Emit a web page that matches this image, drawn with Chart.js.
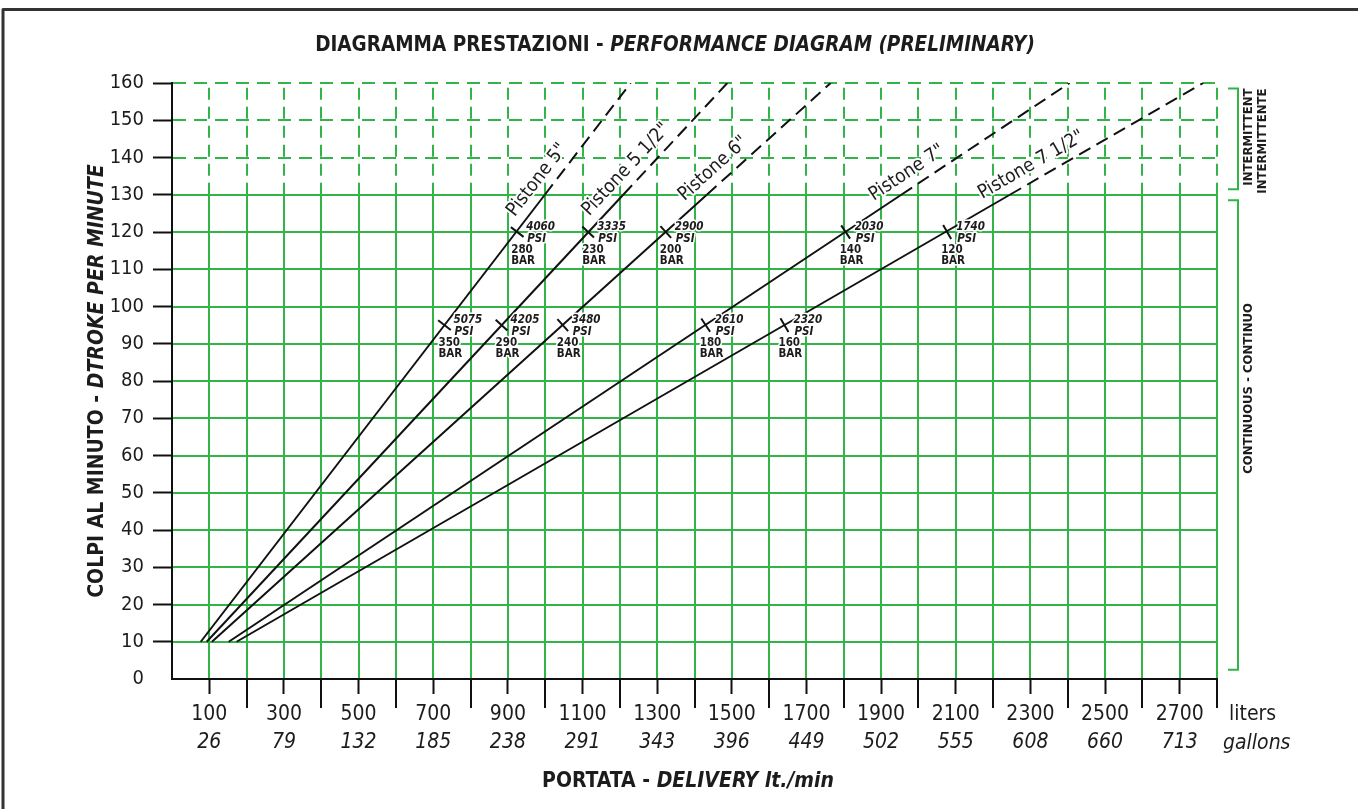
<!DOCTYPE html>
<html>
<head>
<meta charset="utf-8">
<script src="https://cdn.jsdelivr.net/npm/chart.js@4"></script>
<style>
  html, body { margin: 0; padding: 0; background: #fff; }
  #wrap { width: 1358px; height: 809px; position: relative; }
</style>
</head>
<body>
<div id="wrap"><canvas id="chart" width="1358" height="809"></canvas></div>
<script>
const FONT = '"Liberation Sans Narrow", "DejaVu Sans Condensed", "Arial Narrow", sans-serif';
const GREEN = '#33b449';
const INK = '#1c1c1c';

// tick labels
const yTicks = [0, 10, 20, 30, 40, 50, 60, 70, 80, 90, 100, 110, 120, 130, 140, 150, 160];
const literTicks = [100, 300, 500, 700, 900, 1100, 1300, 1500, 1700, 1900, 2100, 2300, 2500, 2700];
const gallonTicks = [26, 79, 132, 185, 238, 291, 343, 396, 449, 502, 555, 608, 660, 713];

// pistons: flow (l/min) at 10, 130 and 160 strokes/min
const pistons = ['Pistone 5"', 'Pistone 5 1/2"', 'Pistone 6"', 'Pistone 7"', 'Pistone 7 1/2"'];
const flowAt10 = [77, 93, 107, 152, 173];
const flowAt130 = [999, 1209, 1433, 1954, 2245];
const flowAt160 = [1229, 1488, 1765, 2405, 2763];

// pressure marks
const flowAt95 = [730, 883, 1047, 1430, 1641];
const psiAt95 = [5075, 4205, 3480, 2610, 2320];
const barAt95 = [350, 290, 240, 180, 160];
const flowAt120 = [925, 1115, 1323, 1805, 2077];
const psiAt120 = [4060, 3335, 2900, 2030, 1740];
const barAt120 = [280, 230, 200, 140, 120];

// where along each line the name sits (strokes/min)
const labelAt = [131.5, 134, 134, 132.5, 134.5];

function lineAngle(chart, i) {
  const x = chart.scales.x, y = chart.scales.y;
  const x0 = x.getPixelForValue(flowAt10[i]), y0 = y.getPixelForValue(10);
  const x1 = x.getPixelForValue(flowAt160[i]), y1 = y.getPixelForValue(160);
  return Math.atan2(y0 - y1, x1 - x0) * 180 / Math.PI;
}

function flowOnLine(i, spm) {
  if (spm <= 130) return flowAt10[i] + (flowAt130[i] - flowAt10[i]) * (spm - 10) / 120;
  return flowAt130[i] + (flowAt160[i] - flowAt130[i]) * (spm - 130) / 30;
}

const lineSets = pistons.map((name, i) => ({
  label: name,
  data: [{ x: flowAt10[i], y: 10 }, { x: flowAt130[i], y: 130 }, { x: flowAt160[i], y: 160 }],
  borderColor: '#111',
  borderWidth: 2,
  pointRadius: 0,
  tension: 0,
  segment: { borderDash: ctx => ctx.p0.parsed.y >= 130 ? [13, 7] : undefined }
}));

const markSets = pistons.map((name, i) => ({
  label: name + ' marks',
  data: [{ x: flowAt95[i], y: 95 }, { x: flowAt120[i], y: 120 }],
  showLine: false,
  pointStyle: 'line',
  pointRadius: 8,
  pointBorderWidth: 2,
  pointBorderColor: '#111',
  pointBackgroundColor: '#111',
  pointRotation: ctx => 90 - lineAngle(ctx.chart, i)
}));

function mixed(ctx, parts, cx, cy) {
  let total = 0;
  parts.forEach(p => { ctx.font = p.font; total += ctx.measureText(p.text).width; });
  let xx = cx - total / 2;
  parts.forEach(p => {
    ctx.font = p.font;
    ctx.fillText(p.text, xx, cy);
    xx += ctx.measureText(p.text).width;
  });
}

function haloText(ctx, text, x, y) {
  ctx.strokeText(text, x, y);
  ctx.fillText(text, x, y);
}

const diagramPlugin = {
  id: 'diagram',
  beforeDatasetsDraw(chart) {
    const { ctx, chartArea: a, scales: { x, y } } = chart;
    ctx.save();
    ctx.strokeStyle = GREEN;
    ctx.lineWidth = 2;
    // horizontal grid
    y.ticks.forEach(t => {
      if (t.value === 0) return;
      const py = Math.round(y.getPixelForValue(t.value));
      ctx.setLineDash(t.value > 130 ? [13, 8] : []);
      ctx.beginPath();
      ctx.moveTo(a.left + 1, py);
      ctx.lineTo(a.right, py);
      ctx.stroke();
    });
    // vertical grid
    const y130 = y.getPixelForValue(130);
    x.ticks.forEach(t => {
      if (t.value === 0) return;
      const px = Math.round(x.getPixelForValue(t.value));
      ctx.setLineDash([]);
      ctx.beginPath();
      ctx.moveTo(px, a.bottom - 1);
      ctx.lineTo(px, y130);
      ctx.stroke();
      ctx.setLineDash([12, 7]);
      ctx.beginPath();
      ctx.moveTo(px, y130);
      ctx.lineTo(px, a.top);
      ctx.stroke();
    });
    ctx.setLineDash([]);
    // long ticks at the even hundreds
    ctx.strokeStyle = '#111';
    x.ticks.forEach(t => {
      if (t.value === 0 || literTicks.includes(t.value)) return;
      const px = Math.round(x.getPixelForValue(t.value));
      ctx.beginPath();
      ctx.moveTo(px, a.bottom);
      ctx.lineTo(px, a.bottom + 29);
      ctx.stroke();
    });
    ctx.restore();
  },
  afterDraw(chart) {
    const { ctx, chartArea: a, scales: { x, y } } = chart;
    ctx.save();
    ctx.fillStyle = INK;
    ctx.textBaseline = 'middle';

    // chart title
    mixed(ctx, [
      { text: 'DIAGRAMMA PRESTAZIONI - ', font: 'bold 20.5px ' + FONT },
      { text: 'PERFORMANCE DIAGRAM (PRELIMINARY)', font: 'italic bold 20.5px ' + FONT }
    ], 675, 46);

    // x title
    mixed(ctx, [
      { text: 'PORTATA - ', font: 'bold 21px ' + FONT },
      { text: 'DELIVERY lt./min', font: 'italic bold 21px ' + FONT }
    ], 688, 782);

    // units
    ctx.textAlign = 'left';
    ctx.font = '21px ' + FONT;
    ctx.fillText('liters', a.right + 12, 715);
    ctx.font = 'italic 21px ' + FONT;
    ctx.fillText('gallons', a.right + 6, 744);

    // y title
    ctx.save();
    ctx.translate(98, 381);
    ctx.rotate(-Math.PI / 2);
    mixed(ctx, [
      { text: 'COLPI AL MINUTO - ', font: 'bold 21px ' + FONT },
      { text: 'DTROKE PER MINUTE', font: 'italic bold 21px ' + FONT }
    ], 0, 0);
    ctx.restore();

    // brackets
    ctx.strokeStyle = GREEN;
    ctx.lineWidth = 2;
    const bx0 = a.right + 11, bx1 = a.right + 21;
    [[158.5, 131.5], [128.5, 2.5]].forEach(([top, bot]) => {
      const t = y.getPixelForValue(top), b = y.getPixelForValue(bot);
      ctx.beginPath();
      ctx.moveTo(bx0, t);
      ctx.lineTo(bx1, t);
      ctx.lineTo(bx1, b);
      ctx.lineTo(bx0, b);
      ctx.stroke();
    });
    ctx.fillStyle = INK;
    ctx.font = 'bold 13px ' + FONT;
    ctx.save();
    ctx.translate(a.right + 32, y.getPixelForValue(158.5));
    ctx.rotate(-Math.PI / 2);
    ctx.textAlign = 'right';
    ctx.fillText('INTERMITTENT', 0, 0);
    ctx.fillText('INTERMITTENTE', 0, 14);
    ctx.restore();
    ctx.save();
    ctx.translate(a.right + 32, y.getPixelForValue(78));
    ctx.rotate(-Math.PI / 2);
    ctx.textAlign = 'center';
    ctx.fillText('CONTINUOUS - CONTINUO', 0, 0);
    ctx.restore();

    // piston names along lines
    ctx.strokeStyle = '#fff';
    ctx.lineWidth = 4;
    ctx.lineJoin = 'round';
    pistons.forEach((name, i) => {
      const ang = lineAngle(chart, i) * Math.PI / 180;
      const px = x.getPixelForValue(flowOnLine(i, labelAt[i]));
      const py = y.getPixelForValue(labelAt[i]);
      ctx.save();
      ctx.translate(px, py);
      ctx.rotate(-ang);
      ctx.textAlign = 'center';
      ctx.font = '19px ' + FONT;
      haloText(ctx, name, 0, -15);
      ctx.restore();
    });

    // pressure labels
    const marks = [[flowAt95, 95, psiAt95, barAt95], [flowAt120, 120, psiAt120, barAt120]];
    ctx.textAlign = 'left';
    ctx.lineWidth = 3;
    marks.forEach(([flows, spm, psi, bar]) => {
      flows.forEach((f, i) => {
        const px = x.getPixelForValue(f), py = y.getPixelForValue(spm);
        ctx.font = 'italic bold 11.5px ' + FONT;
        haloText(ctx, String(psi[i]), px + 9, py - 5);
        haloText(ctx, 'PSI', px + 10, py + 7);
        ctx.font = 'bold 11.5px ' + FONT;
        haloText(ctx, String(bar[i]), px - 6, py + 18);
        haloText(ctx, 'BAR', px - 6, py + 29);
      });
    });

    // frame
    ctx.strokeStyle = '#333';
    ctx.lineWidth = 3;
    ctx.beginPath();
    ctx.moveTo(3, 809);
    ctx.lineTo(3, 9.5);
    ctx.lineTo(1358, 9.5);
    ctx.stroke();
    ctx.restore();
  }
};

new Chart(document.getElementById('chart'), {
  type: 'line',
  data: { datasets: [...lineSets, ...markSets] },
  options: {
    responsive: false,
    animation: false,
    events: [],
    devicePixelRatio: 1,
    layout: { padding: { left: 0, right: 141, top: 83, bottom: 50 } },
    plugins: { legend: { display: false }, tooltip: { enabled: false } },
    scales: {
      x: {
        type: 'linear', position: 'bottom', weight: 0, min: 0, max: 2800,
        ticks: {
          stepSize: 100, autoSkip: false, maxRotation: 0, padding: 8,
          color: INK, font: { family: FONT, size: 21 },
          callback: v => literTicks.includes(v) ? String(v) : ''
        },
        grid: {
          drawOnChartArea: false, tickLength: 15, tickWidth: 2,
          tickColor: c => (c.tick && literTicks.includes(c.tick.value)) ? '#111' : 'rgba(0,0,0,0)'
        },
        border: { color: '#111', width: 2 },
        afterFit: s => { s.height = 50; }
      },
      x2: {
        type: 'linear', position: 'bottom', weight: 1, min: 0, max: 2800,
        ticks: {
          stepSize: 100, autoSkip: false, maxRotation: 0, padding: 1,
          color: INK, font: { family: FONT, size: 21, style: 'italic' },
          callback: v => { const k = literTicks.indexOf(v); return k >= 0 ? String(gallonTicks[k]) : ''; }
        },
        grid: { display: false, drawTicks: false },
        border: { display: false },
        afterFit: s => { s.height = 30; }
      },
      y: {
        type: 'linear', min: 0, max: 160,
        afterBuildTicks: s => { s.ticks = yTicks.map(v => ({ value: v })); },
        ticks: { padding: 9, color: INK, font: { family: FONT, size: 20 } },
        grid: {
          drawOnChartArea: false, tickLength: 19, tickWidth: 2,
          tickColor: c => (c.tick && c.tick.value === 0) ? 'rgba(0,0,0,0)' : '#111'
        },
        border: { color: '#111', width: 2 },
        afterFit: s => { s.width = 172; }
      }
    }
  },
  plugins: [diagramPlugin]
});
</script>
</body>
</html>
